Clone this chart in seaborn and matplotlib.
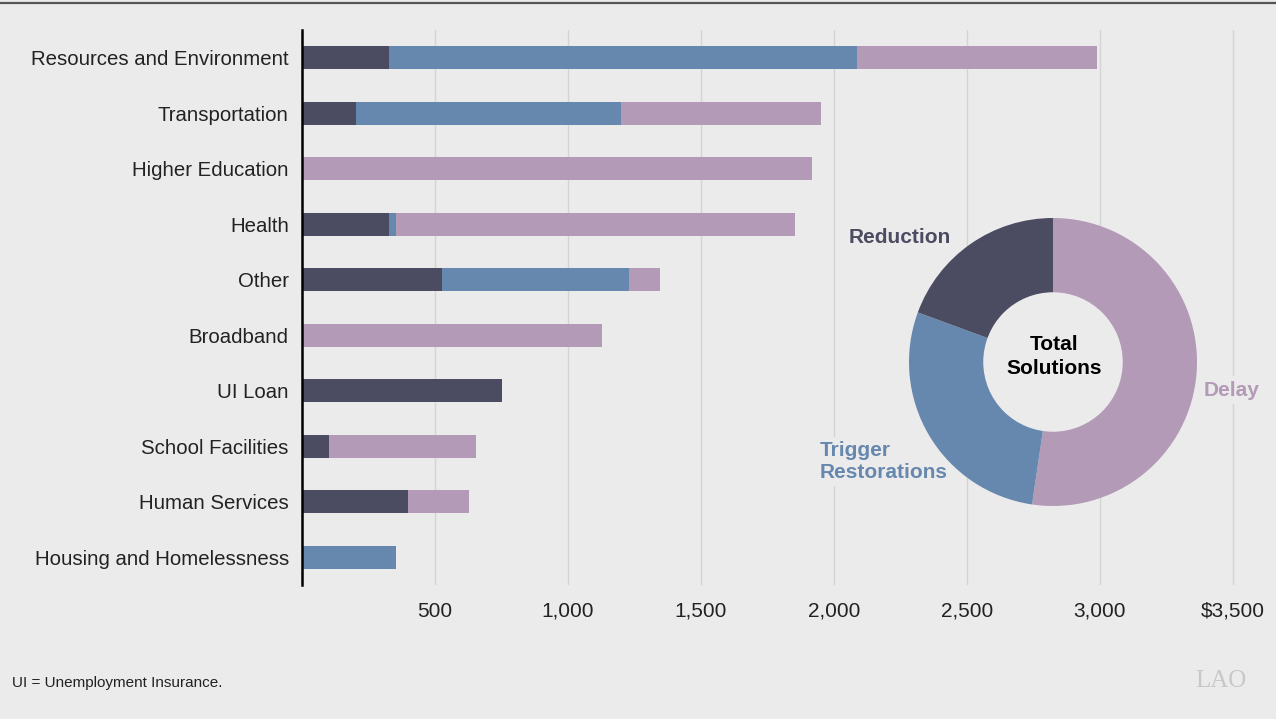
import matplotlib
matplotlib.use("Agg")
import matplotlib.pyplot as plt
from matplotlib.lines import Line2D
from matplotlib.patches import Circle
import seaborn as sns
import numpy as np

# ---- data ----
categories = ["Resources and Environment", "Transportation", "Higher Education", "Health",
              "Other", "Broadband", "UI Loan", "School Facilities", "Human Services",
              "Housing and Homelessness"]
reduction = [327, 202, 0, 327, 526, 0, 752, 101, 398, 0]
trigger = [1758, 996, 0, 26, 703, 0, 0, 0, 0, 353]
delay = [904, 752, 1916, 1502, 116, 1127, 0, 553, 230, 0]
tick_values = [500, 1000, 1500, 2000, 2500, 3000, 3500]
tick_labels = ["500", "1,000", "1,500", "2,000", "2,500", "3,000", "$3,500"]
donut_labels = ["Delay", "Trigger\nRestorations", "Reduction"]

BG = "#ebebeb"
C_RED = "#4b4c62"
C_TRI = "#6788ae"
C_DEL = "#b39ab6"

sns.set_theme(style="white")
plt.rcParams["font.family"] = ["Liberation Sans", "DejaVu Sans"]

fig = plt.figure(figsize=(12.76, 7.19), dpi=100, facecolor=BG)
px_per_unit = (1233 - 302) / 3500
xmax = 3515
ax = fig.add_axes([302 / 1276, 1 - 585 / 719, xmax * px_per_unit / 1276, (585 - 30) / 719])
ax.set_facecolor(BG)

red = np.array(reduction, dtype=float)
tri = np.array(trigger, dtype=float)
dl = np.array(delay, dtype=float)

# stacked by overlaying cumulative totals
for vals, col in [(red + tri + dl, C_DEL), (red + tri, C_TRI), (red, C_RED)]:
    sns.barplot(x=vals, y=categories, order=categories, orient="h", color=col,
                saturation=1, width=0.41, ax=ax, zorder=3, linewidth=0)

ax.set_xlim(0, xmax)
ax.set_ylim(9.5, -0.5)
ax.set_xlabel("")
ax.set_ylabel("")
ax.set_xticks(tick_values)
ax.set_xticklabels(tick_labels)
ax.tick_params(axis="x", length=0, pad=12, labelsize=15, colors="#222222")
ax.tick_params(axis="y", length=0, pad=9.5, labelsize=14.7, colors="#222222")
ax.grid(axis="x", color="#d4d4d4", linewidth=1.0, zorder=0)
ax.grid(axis="y", visible=False)
ax.set_axisbelow(True)
for s in ["top", "right", "bottom"]:
    ax.spines[s].set_visible(False)
ax.spines["left"].set_color("black")
ax.spines["left"].set_linewidth(1.8)
ax.spines["left"].set_zorder(5)

# ---- donut ----
totals = [dl.sum(), tri.sum(), red.sum()]
cx, cy, half = 1053, 362, 150
dax = fig.add_axes([(cx - half) / 1276, 1 - (cy + half) / 719, 2 * half / 1276, 2 * half / 719])
wedges, _ = dax.pie(totals, colors=[C_DEL, C_TRI, C_RED], startangle=90, counterclock=False,
                    radius=0.96, wedgeprops=dict(width=0.5, linewidth=0))
for w in wedges:
    w.set_zorder(2)
dax.add_patch(Circle((0, 0), 0.465, facecolor=BG, edgecolor="none", zorder=2))
dax.set_xlim(-1, 1)
dax.set_ylim(-1, 1)
dax.set_aspect("equal")
dax.axis("off")

dax.text(0.005, 0.035, "Total\nSolutions", ha="center", va="center", fontsize=15,
         fontweight="bold", color="black", linespacing=1.35, zorder=3)
dax.text(-1.36, 0.827, donut_labels[2], ha="left", va="center", fontsize=15,
         fontweight="bold", color=C_RED, zorder=1)
dax.text(-1.553, -0.665, donut_labels[1], ha="left", va="center", fontsize=15,
         fontweight="bold", color=C_TRI, linespacing=1.2, zorder=1,
         bbox=dict(facecolor=BG, edgecolor="none", pad=3))
dax.text(1.007, -0.187, donut_labels[0], ha="left", va="center", fontsize=15,
         fontweight="bold", color=C_DEL, zorder=1,
         bbox=dict(facecolor=BG, edgecolor="none", pad=3))

# ---- decorations ----
fig.add_artist(Line2D([0, 1], [1 - 2.5 / 719, 1 - 2.5 / 719], transform=fig.transFigure,
                      color="#555555", linewidth=1.6))
fig.text(12 / 1276, 1 - 683 / 719, "UI = Unemployment Insurance.", ha="left", va="center",
         fontsize=11, color="#222222")
fig.text(1195 / 1276, 1 - 681 / 719, "LAO", ha="left", va="center", fontsize=18,
         family="Liberation Serif", color="#c8c8c8")

fig.savefig("out.png", dpi=100, facecolor=BG)
